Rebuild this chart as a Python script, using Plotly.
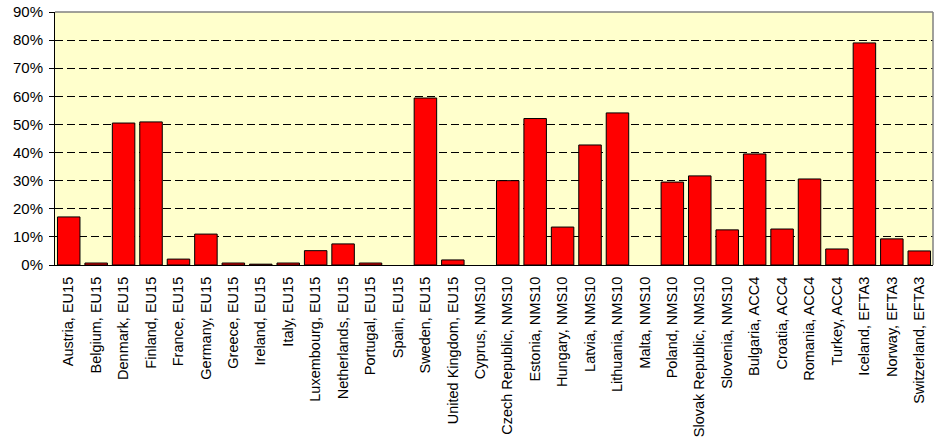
import plotly.graph_objects as go

countries = ["Austria, EU15", "Belgium, EU15", "Denmark, EU15", "Finland, EU15", "France, EU15",
             "Germany, EU15", "Greece, EU15", "Ireland, EU15", "Italy, EU15", "Luxembourg, EU15",
             "Netherlands, EU15", "Portugal, EU15", "Spain, EU15", "Sweden, EU15", "United Kingdom, EU15",
             "Cyprus, NMS10", "Czech Republic, NMS10", "Estonia, NMS10", "Hungary, NMS10", "Latvia, NMS10",
             "Lithuania, NMS10", "Malta, NMS10", "Poland, NMS10", "Slovak Republic, NMS10", "Slovenia, NMS10",
             "Bulgaria, ACC4", "Croatia, ACC4", "Romania, ACC4", "Turkey, ACC4",
             "Iceland, EFTA3", "Norway, EFTA3", "Switzerland, EFTA3"]
values = [0.171, 0.007, 0.505, 0.509, 0.021,
          0.110, 0.007, 0.003, 0.007, 0.051,
          0.075, 0.007, 0.0, 0.594, 0.018,
          0.0, 0.300, 0.521, 0.135, 0.427,
          0.541, 0.0, 0.295, 0.317, 0.125,
          0.395, 0.128, 0.306, 0.057,
          0.790, 0.093, 0.050]
yticks = [0, 0.1, 0.2, 0.3, 0.4, 0.5, 0.6, 0.7, 0.8, 0.9]
ytick_labels = ["0%", "10%", "20%", "30%", "40%", "50%", "60%", "70%", "80%", "90%"]

# zero values are drawn without an outline (as in the reference)
line_widths = [0 if v == 0 else 1 for v in values]

fig = go.Figure(go.Bar(
    x=countries, y=values,
    marker=dict(color="#FF0000", line=dict(color="#000000", width=line_widths)),
))

font = "Arial, Liberation Sans, sans-serif"
fig.update_layout(
    width=935, height=440,
    margin=dict(l=55, r=2, t=12, b=175),
    paper_bgcolor="white", plot_bgcolor="#FFFFCC",
    bargap=0.18, showlegend=False,
    font=dict(family=font, size=14, color="#000000"),
    xaxis=dict(
        type="category", tickangle=-90, showgrid=False, ticks="", ticklabelstandoff=5,
        showline=True, linecolor="#000000", linewidth=1, automargin=False,
        tickfont=dict(family=font, size=14.5, color="#000000"),
    ),
    yaxis=dict(
        range=[0, 0.9], tickvals=yticks, ticktext=ytick_labels,
        showgrid=True, gridcolor="#000000", gridwidth=1, griddash="8px,4px",
        showline=True, linecolor="#000000", linewidth=1, automargin=False,
        ticks="outside", ticklen=5, tickcolor="#000000", ticklabelstandoff=3,
        zeroline=False,
        tickfont=dict(family=font, size=15, color="#000000"),
    ),
    shapes=[
        dict(type="line", xref="paper", yref="paper", x0=0, x1=1, y0=1, y1=1,
             line=dict(color="#808080", width=1.5)),
        dict(type="line", xref="paper", yref="paper", x0=1, x1=1, y0=0, y1=1,
             line=dict(color="#808080", width=1.5)),
    ],
)

fig.write_html("out.html")
